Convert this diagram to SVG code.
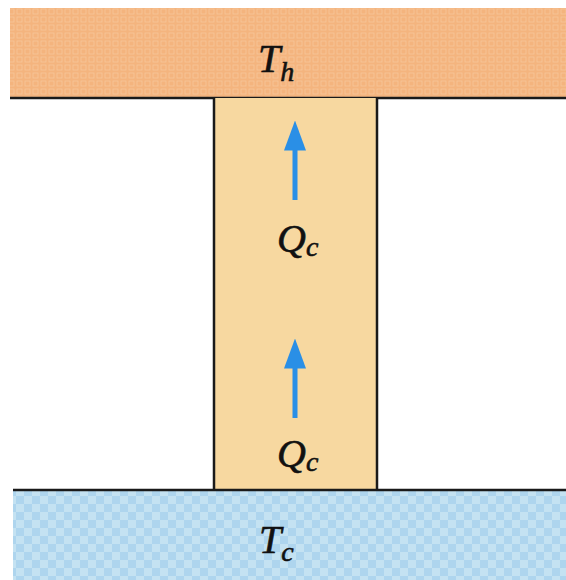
<svg xmlns="http://www.w3.org/2000/svg" width="566" height="580" viewBox="0 0 566 580">
<style>
.lbl{font-family:"Liberation Serif","Times New Roman",serif;font-style:italic;fill:#111;stroke:#111;stroke-width:0.6;}
.big{font-size:40px;}
.sub{font-size:28px;}
.edge{stroke:#1a1a1a;stroke-width:2.5;fill:none;}
.arr{stroke:#2a8fe6;stroke-width:5;fill:none;}
</style>
<defs>
<marker id="ah" markerWidth="6" markerHeight="4.4" refX="0.5" refY="2.2" orient="auto" markerUnits="strokeWidth">
<path d="M0,0 L6,2.2 L0,4.4 Z" fill="#2a8fe6"/>
</marker>
<pattern id="hot" width="8" height="8" patternUnits="userSpaceOnUse">
<rect width="8" height="8" fill="#f4b47e"/>
<rect x="1" y="1" width="5" height="5" fill="none" stroke="#f7c79a" stroke-width="0.8"/>
</pattern>
<pattern id="cold" width="16" height="16" patternUnits="userSpaceOnUse">
<rect width="16" height="16" fill="#c4e2f2"/>
<rect x="0" y="0" width="8" height="8" fill="#aed5ee"/>
<rect x="8" y="8" width="8" height="8" fill="#aed5ee"/>
</pattern>
</defs>
<rect width="566" height="580" fill="#ffffff"/>
<g id="hot-reservoir">
<rect x="10" y="8" width="556" height="90" fill="url(#hot)"/>
<line class="edge" x1="10" y1="98" x2="566" y2="98"/>
<text class="lbl big" x="258" y="72">T<tspan class="sub" dy="9">h</tspan></text>
</g>
<g id="cold-reservoir">
<rect x="13" y="490" width="553" height="90" fill="url(#cold)"/>
<text class="lbl big" x="259" y="553">T<tspan class="sub" dy="8">c</tspan></text>
</g>
<g id="conductor">
<rect x="214" y="98" width="163" height="392" fill="#f7d8a0"/>
<line class="edge" x1="214" y1="98" x2="214" y2="490"/>
<line class="edge" x1="377" y1="98" x2="377" y2="490"/>
<line class="edge" x1="13" y1="490" x2="566" y2="490"/>
<text class="lbl big" x="277" y="252">Q<tspan class="sub" dy="4">c</tspan></text>
<text class="lbl big" x="277" y="467">Q<tspan class="sub" dy="4">c</tspan></text>
</g>
<g id="connectors">
<line class="arr" x1="295" y1="200" x2="295" y2="148" marker-end="url(#ah)"/>
<line class="arr" x1="295" y1="418" x2="295" y2="366" marker-end="url(#ah)"/>
</g>
</svg>
